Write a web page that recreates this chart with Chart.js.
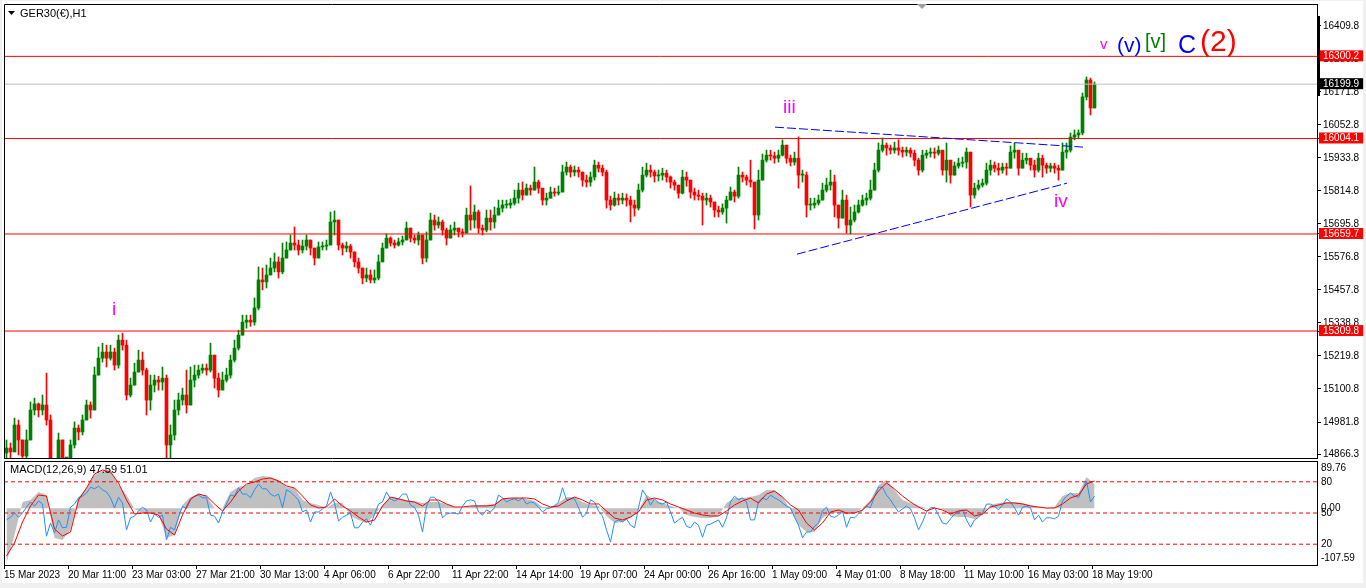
<!DOCTYPE html>
<html>
<head>
<meta charset="utf-8">
<title>GER30 H1</title>
<script src="https://cdn.jsdelivr.net/npm/chart.js@4.4.0/dist/chart.umd.min.js"></script>
<style>
    html, body { margin: 0; padding: 0; background: #f0f0f0; overflow: hidden; }
    #frame { position: absolute; left: 2px; top: 1px; width: 1361px; height: 582px; background: #fff; }
    #pricePane { position: absolute; left: 0; top: 0; width: 1366px; height: 470px; }
    #macdPane { position: absolute; left: 0; top: 459px; width: 1366px; height: 129px; }
</style>
</head>
<body>
<div id="frame"></div>
<div id="pricePane"><canvas id="priceChart"></canvas></div>
<div id="macdPane"><canvas id="macdChart"></canvas></div>
<script>
// hourly candles, sampled every 4 px of the original chart
const firstOpen = 14870;
const closes = [
    14888,14874,14971,14917,14859,14917,15025,15047,15025,15043,
    14989,14845,14809,14917,14827,14827,14899,14960,14946,14989,
    15043,15025,15151,15212,15234,15212,15234,15187,15277,15259,
    15079,15115,15162,15205,15169,15061,15115,15133,15126,15140,
    14899,14935,15025,15061,15079,15043,15133,15151,15169,15176,
    15169,15223,15140,15097,15133,15151,15205,15248,15295,15342,
    15349,15342,15393,15494,15487,15512,15537,15559,15523,15573,
    15602,15627,15620,15602,15616,15638,15609,15573,15613,15616,
    15620,15703,15710,15620,15609,15616,15595,15559,15537,15501,
    15512,15494,15501,15559,15609,15645,15627,15620,15631,15638,
    15681,15645,15638,15656,15573,15638,15710,15692,15703,15674,
    15645,15674,15681,15667,15663,15728,15710,15739,15681,15674,
    15717,15703,15728,15753,15764,15764,15771,15789,15818,15800,
    15825,15818,15847,15825,15782,15789,15811,15807,15811,15883,
    15901,15883,15890,15883,15854,15847,15865,15908,15897,15883,
    15782,15764,15789,15782,15789,15782,15764,15753,15818,15872,
    15890,15883,15869,15872,15879,15865,15847,15836,15807,15865,
    15854,15811,15800,15796,15782,15789,15775,15746,15739,15753,
    15782,15811,15796,15872,15865,15854,15847,15728,15854,15926,
    15944,15941,15933,15944,15980,15933,15919,15933,15872,15872,
    15764,15764,15771,15782,15818,15836,15847,15764,15717,15782,
    15692,15710,15739,15764,15782,15789,15818,15890,15962,15980,
    15970,15962,15970,15962,15955,15962,15951,15926,15890,15944,
    15951,15955,15951,15962,15890,15926,15872,15905,15915,15919,
    15955,15800,15825,15836,15843,15890,15908,15897,15890,15901,
    15897,15955,15962,15897,15926,15933,15908,15890,15933,15908,
    15897,15905,15897,15890,15955,15962,16009,16017,16024,16154,
    16215,16114,16200
];
const highs = [
    14917,14906,14996,14989,14899,14953,15054,15068,15050,15079,
    15158,15007,14845,14942,14917,14852,14917,14982,14971,15007,
    15061,15054,15180,15252,15266,15259,15259,15248,15295,15302,
    15277,15140,15194,15241,15234,15176,15151,15151,15147,15180,
    15151,14971,15061,15086,15104,15169,15180,15187,15187,15191,
    15191,15266,15187,15158,15162,15176,15223,15277,15313,15367,
    15367,15367,15429,15541,15537,15548,15573,15591,15577,15627,
    15631,15656,15685,15638,15638,15656,15631,15609,15631,15631,
    15638,15739,15743,15692,15627,15631,15623,15591,15573,15537,
    15537,15530,15530,15584,15627,15660,15649,15638,15645,15652,
    15703,15667,15656,15667,15638,15667,15735,15728,15721,15710,
    15681,15692,15703,15681,15678,15753,15833,15764,15746,15692,
    15746,15746,15757,15782,15782,15782,15786,15818,15843,15847,
    15840,15836,15901,15854,15818,15807,15829,15825,15833,15908,
    15919,15908,15905,15901,15883,15872,15883,15926,15919,15908,
    15890,15796,15811,15804,15807,15804,15796,15782,15840,15901,
    15915,15908,15890,15890,15897,15890,15869,15854,15836,15890,
    15883,15836,15825,15818,15807,15807,15800,15771,15760,15768,
    15796,15829,15818,15901,15883,15872,15926,15818,15890,15948,
    15962,15962,15955,15962,15999,15962,15944,15955,16010,15890,
    15883,15789,15789,15800,15843,15861,15890,15872,15764,15818,
    15800,15757,15764,15782,15800,15807,15854,15915,15988,16006,
    15988,15980,15991,15999,15973,15973,15970,15962,15933,15962,
    15962,15970,15970,15977,15944,15988,15908,15919,15933,15937,
    15970,15944,15843,15854,15858,15915,15926,15919,15915,15915,
    15915,15977,15988,15962,15951,15951,15933,15926,15951,15944,
    15915,15915,15915,15908,15988,15988,16024,16035,16035,16168,
    16226,16222,16208
];
const lows = [
    14852,14845,14881,14863,14838,14852,14917,15007,15000,15007,
    14971,14809,14773,14809,14791,14791,14827,14888,14917,14935,
    14989,14996,15025,15162,15198,15180,15205,15169,15176,15241,
    15061,15072,15115,15162,15151,15007,15025,15090,15097,15097,
    14852,14852,14917,15007,15043,15014,15079,15108,15140,15158,
    15151,15162,15104,15072,15097,15126,15140,15198,15241,15306,
    15320,15327,15331,15386,15458,15465,15512,15523,15501,15516,
    15577,15609,15602,15584,15591,15602,15584,15548,15595,15602,
    15602,15620,15656,15602,15584,15595,15573,15541,15519,15480,
    15487,15483,15483,15494,15573,15620,15616,15609,15616,15620,
    15638,15631,15627,15620,15552,15559,15638,15674,15681,15656,
    15620,15645,15656,15649,15649,15667,15674,15681,15663,15656,
    15667,15674,15681,15728,15739,15753,15753,15764,15771,15782,
    15804,15800,15818,15807,15764,15764,15793,15796,15800,15818,
    15872,15865,15869,15865,15832,15829,15832,15854,15883,15869,
    15753,15746,15760,15764,15768,15760,15703,15724,15746,15811,
    15865,15865,15847,15851,15854,15847,15825,15818,15789,15804,
    15832,15789,15782,15782,15692,15764,15757,15721,15721,15731,
    15699,15782,15775,15789,15847,15836,15829,15678,15710,15883,
    15919,15926,15915,15919,15941,15915,15905,15908,15825,15847,
    15721,15746,15753,15764,15782,15811,15818,15721,15681,15746,
    15663,15660,15703,15735,15760,15764,15782,15836,15883,15955,
    15944,15948,15951,15944,15937,15941,15937,15905,15872,15883,
    15933,15937,15933,15944,15872,15847,15843,15883,15897,15901,
    15897,15757,15789,15818,15829,15836,15872,15883,15872,15879,
    15872,15908,15933,15872,15897,15912,15890,15865,15883,15865,
    15879,15883,15879,15854,15890,15933,15955,15999,16006,16017,
    16143,16089,16125
];

// horizontal levels and the current price
const levels = [16300.2, 16004.1, 15659.7, 15309.8];
const lastPrice = 16199.9;
const priceTicks = [16409.8, 16290.8, 16171.8, 16052.8, 15933.8, 15814.8, 15695.8,
                    15576.8, 15457.8, 15338.8, 15219.8, 15100.8, 14981.8, 14866.3];
const priceMin = 14852;
const priceMax = 16489;

// one date label every 16 candles
const dateLabels = ['15 Mar 2023', '20 Mar 11:00', '23 Mar 03:00', '27 Mar 21:00', '30 Mar 13:00',
    '4 Apr 06:00', '6 Apr 22:00', '11 Apr 22:00', '14 Apr 14:00', '19 Apr 07:00', '24 Apr 00:00',
    '26 Apr 16:00', '1 May 09:00', '4 May 01:00', '8 May 18:00', '11 May 10:00', '16 May 03:00',
    '18 May 19:00'];

// MACD pane: main and signal every 2 candles, fast line every candle
const macdMain = [
    -103.8,-50.7,12.0,15.8,30.9,25.2,-56.4,-60.2,-41.2,21.4,
    38.5,63.2,70.8,72.7,44.2,25.2,-1.3,-8.9,-10.8,-10.8,
    -56.4,-50.7,6.3,21.4,27.1,23.3,0.6,0.6,30.9,40.4,
    44.2,57.5,61.3,59.4,53.7,40.4,38.5,15.8,10.1,6.3,
    0.6,10.1,10.1,-14.6,-22.2,-27.9,-12.7,6.3,21.4,19.5,
    15.8,13.9,10.1,12.0,12.0,8.2,2.5,0.6,4.4,6.3,
    6.3,8.2,19.5,19.5,19.5,17.7,13.9,2.5,2.5,10.1,
    21.4,21.4,12.0,6.3,4.4,-14.6,-27.9,-26.0,-18.4,-3.2,
    25.2,15.8,10.1,4.4,0.6,-12.7,-16.5,-18.4,-18.4,-14.6,
    10.1,19.5,19.5,21.4,25.2,34.7,34.7,21.4,-3.2,-31.7,
    -45.0,-45.0,-18.4,-8.9,-8.9,-10.8,-8.9,0.6,15.8,44.2,
    53.7,34.7,15.8,10.1,4.4,0.6,0.6,-1.3,-14.6,-16.5,
    -16.5,-20.3,-12.7,6.3,10.1,12.0,12.0,10.1,6.3,2.5,
    0.6,2.5,23.3,29.0,29.0,59.4,46.1
];
const macdSignal = [
    -90.5,-65.9,-26.0,4.4,25.2,23.3,-39.3,-52.6,-45.0,15.8,
    38.5,65.1,72.7,68.9,48.0,15.8,-10.8,-8.9,-8.9,-12.7,
    -39.3,-50.7,-12.7,17.7,27.1,23.3,8.2,-5.1,12.0,32.8,
    46.1,49.9,55.6,57.5,51.8,42.3,38.5,23.3,6.3,0.6,
    2.5,17.7,4.4,-5.1,-16.5,-26.0,-22.2,4.4,21.4,17.7,
    13.9,12.0,4.4,15.8,15.8,8.2,2.5,2.5,4.4,4.4,
    4.4,6.3,17.7,19.5,19.5,19.5,17.7,8.2,2.5,4.4,
    13.9,21.4,15.8,8.2,8.2,-5.1,-18.4,-22.2,-16.5,-7.0,
    15.8,19.5,15.8,8.2,2.5,-3.2,-8.9,-12.7,-14.6,-14.6,
    -5.1,6.3,13.9,19.5,10.1,27.1,32.8,21.4,6.3,-3.2,
    -27.9,-41.2,-27.9,-7.0,-3.2,-8.9,-8.9,-3.2,12.0,32.8,
    48.0,36.6,23.3,12.0,2.5,-5.1,0.6,-3.2,-10.8,-5.1,
    -3.2,-14.6,-10.8,2.5,6.3,10.1,10.1,8.2,4.4,2.5,
    0.6,0.6,8.2,19.5,25.2,46.1,51.8
];
const macdFast = [
    -22,-17,-9,-17,-9,2,12,4,14,8,
    -53,-28,-47,-22,-37,-36,2,8,20,23,
    29,40,37,42,35,31,20,1,21,10,
    -41,-18,-15,-5,2,-3,-26,-11,-17,-13,
    -60,-36,-41,-17,4,-1,16,23,25,20,
    20,-13,-15,-28,-7,8,25,23,39,27,
    27,20,35,46,37,37,27,23,27,1,
    35,31,23,16,-7,-3,-26,-7,-7,-1,
    4,31,10,-24,-17,-13,-9,-37,-37,-26,
    -20,-32,-11,8,12,31,18,14,18,27,
    27,6,2,-13,-45,4,21,21,12,-18,
    -11,-9,-9,-11,4,14,16,14,-7,-13,
    -3,-7,1,25,20,12,16,18,14,20,
    8,12,10,2,-7,-1,1,4,12,39,
    16,18,18,1,-17,-9,16,12,-5,-15,
    -41,-64,-26,-22,-26,-20,-32,-37,1,35,
    23,6,18,10,8,12,-7,-28,-22,-17,
    -34,-37,-26,-32,-55,-32,-30,-26,-22,-36,
    -18,12,23,16,20,12,-22,-22,12,20,
    16,25,20,16,10,4,1,-17,-32,-56,
    -45,-45,-34,-28,-5,2,-15,-17,-13,-5,
    -36,-17,-18,-11,-3,4,1,23,40,40,
    25,16,4,-7,-1,4,-1,-18,-41,-26,
    -7,1,2,-13,-28,-30,-20,-11,-7,-3,
    -22,-36,-22,-17,-9,8,8,4,-3,6,
    18,12,1,-13,2,4,1,-22,-13,-26,
    -18,-18,-20,-15,14,23,29,23,21,35,
    52,12,23
];
const macdMin = -107.59;
const macdMax = 89.76;
const macdLevels = [80, 50, 20];

const xMax = 328.25;          // empty space to the right of the last candle
const labelsPerTick = 16;
const uiFont = '"Liberation Sans", Arial, sans-serif';
const textFont = '"Liberation Sans", Arial, sans-serif';

// wave counts and trend lines drawn on the price pane
const waveNotes = [
    { text: 'i', x: 27, y: 15368, color: '#ff00ff', size: 19 },
    { text: 'iii', x: 194.75, y: 16096, color: '#ff00ff', size: 19 },
    { text: 'iv', x: 262.5, y: 15757, color: '#ff00ff', size: 19 },
    { text: 'v', x: 274, y: 16327, color: '#ff00ff', size: 15 },
    { text: '(v)', x: 278.25, y: 16316, color: '#0000ff', size: 21 },
    { text: '[v]', x: 285.25, y: 16330, color: '#008000', size: 20 },
    { text: 'C', x: 293.5, y: 16312, color: '#0000ff', size: 25 },
    { text: '(2)', x: 299, y: 16320, color: '#ff0000', size: 30 }
];
const trendLines = [
    [{ x: 192.75, y: 16045 }, { x: 269.75, y: 15973 }],
    [{ x: 198.25, y: 15587 }, { x: 265.75, y: 15843 }]
];

const slot = i => i + 0.625;
const opens = [firstOpen].concat(closes.slice(0, -1));
const candleColors = closes.map((c, i) => c >= opens[i] ? '#008000' : '#ff0000');

function flatLine(value, color, extra) {
    return Object.assign({
        type: 'line',
        data: [{ x: 0, y: value }, { x: xMax, y: value }],
        borderColor: color,
        borderWidth: 1,
        pointRadius: 0,
        order: 1
    }, extra || {});
}

function markColor(v) {
    if (levels.includes(v)) return '#ff0000';
    if (v === lastPrice) return '#000000';
    return null;
}

const priceDecor = {
    id: 'priceDecor',
    afterDraw(chart) {
        const { ctx, chartArea: a, scales: { x, y } } = chart;
        ctx.save();
        ctx.strokeStyle = '#000';
        ctx.lineWidth = 1;
        ctx.beginPath();
        ctx.moveTo(a.left + 0.5, a.bottom + 0.5);
        ctx.lineTo(a.left + 0.5, a.top + 0.5);
        ctx.lineTo(a.right, a.top + 0.5);
        ctx.moveTo(a.left, a.bottom + 0.5);
        ctx.lineTo(a.right, a.bottom + 0.5);
        ctx.stroke();

        // chart shift marker and scale marker
        ctx.fillStyle = '#a0a0a0';
        ctx.beginPath();
        ctx.moveTo(917, 4); ctx.lineTo(927, 4); ctx.lineTo(922, 9);
        ctx.fill();
        ctx.fillStyle = '#000';
        ctx.fillRect(a.right, 16, 3, 80);

        // symbol title
        ctx.beginPath();
        ctx.moveTo(8, 11); ctx.lineTo(15, 11); ctx.lineTo(11.5, 15);
        ctx.fill();
        ctx.font = '11px ' + textFont;
        ctx.textBaseline = 'alphabetic';
        ctx.textAlign = 'left';
        ctx.fillText('GER30(€),H1', 20, 17);

        waveNotes.forEach(n => {
            ctx.font = n.size + 'px ' + textFont;
            ctx.fillStyle = n.color;
            ctx.fillText(n.text, x.getPixelForValue(n.x), y.getPixelForValue(n.y));
        });
        ctx.restore();
    }
};

const macdDecor = {
    id: 'macdDecor',
    afterDraw(chart) {
        const { ctx, chartArea: a } = chart;
        ctx.save();
        ctx.strokeStyle = '#000';
        ctx.lineWidth = 1;
        ctx.beginPath();
        ctx.moveTo(a.left + 0.5, a.bottom);
        ctx.lineTo(a.left + 0.5, a.top + 0.5);
        ctx.lineTo(a.right, a.top + 0.5);
        ctx.stroke();
        ctx.fillStyle = '#000';
        ctx.font = '11px ' + textFont;
        ctx.textAlign = 'left';
        ctx.textBaseline = 'alphabetic';
        ctx.fillText('MACD(12,26,9) 47.59 51.01', 10, a.top + 12);
        ctx.restore();
    }
};

// price pane
new Chart(document.getElementById('priceChart'), {
    type: 'bar',
    data: {
        datasets: [
            ...trendLines.map(pts => ({
                type: 'line', data: pts, borderColor: '#0000ff', borderWidth: 1,
                borderDash: [9, 3], pointRadius: 0, order: 0
            })),
            flatLine(lastPrice, '#c0c0c0'),
            ...levels.map(l => flatLine(l, '#ff0000')),
            {
                data: closes.map((c, i) => ({ x: slot(i), y: [opens[i], c] })),
                backgroundColor: candleColors,
                barThickness: 3,
                minBarLength: 1,
                grouped: false,
                order: 2
            },
            {
                data: closes.map((c, i) => ({
                    x: slot(i),
                    y: [Math.min(lows[i], opens[i], c), Math.max(highs[i], opens[i], c)]
                })),
                backgroundColor: candleColors,
                barThickness: 1,
                grouped: false,
                order: 3
            }
        ]
    },
    options: {
        responsive: true,
        maintainAspectRatio: false,
        animation: false,
        events: [],
        layout: { padding: { left: 4, top: 4, right: 0, bottom: 12 } },
        plugins: { legend: { display: false }, tooltip: { enabled: false } },
        scales: {
            x: { type: 'linear', min: 0, max: xMax, offset: false, display: false },
            y: {
                position: 'right',
                min: priceMin,
                max: priceMax,
                afterBuildTicks: s => {
                    s.ticks = priceTicks.concat(levels, [lastPrice]).map(v => ({ value: v }));
                },
                afterFit: s => {
                    s.width = 49;
                    s.paddingTop = 0;
                    s.paddingBottom = 0;
                },
                grid: { drawOnChartArea: false, drawTicks: true, tickLength: 4, color: '#000' },
                border: { display: true, color: '#000' },
                ticks: {
                    autoSkip: false,
                    padding: 2,
                    font: { family: uiFont, size: 10, lineHeight: 1 },
                    color: c => (c.tick && markColor(c.tick.value)) ? '#fff' : '#000',
                    showLabelBackdrop: c => !!(c.tick && markColor(c.tick.value)),
                    backdropColor: c => (c.tick && markColor(c.tick.value)) || 'rgba(0,0,0,0)',
                    backdropPadding: { top: 1, bottom: 0, left: 4, right: 4 },
                    callback: v => v.toFixed(1)
                }
            }
        }
    },
    plugins: [priceDecor]
});

// MACD pane
const macdTickValues = [76.5, 0, -94.3];
const macdTickText = ['89.76', '0.00', '-107.59'];
const levelOnMacd = l => macdMin + l / 100 * (macdMax - macdMin);

new Chart(document.getElementById('macdChart'), {
    type: 'line',
    data: {
        datasets: [
            {
                data: macdSignal.map((v, j) => ({ x: 2 * j + 0.625, y: v })),
                borderColor: '#ff0000', borderWidth: 1, pointRadius: 0, order: 0
            },
            {
                data: macdFast.map((v, i) => ({ x: slot(i), y: v })),
                borderColor: '#1e90ff', borderWidth: 1, pointRadius: 0, order: 1
            },
            ...macdLevels.map(l => ({
                data: [{ x: 0, y: l }, { x: xMax, y: l }],
                yAxisID: 'lv', borderColor: '#ff0000', borderWidth: 1,
                borderDash: [4, 3], pointRadius: 0, order: 2
            })),
            {
                data: macdMain.map((v, j) => ({ x: 2 * j + 0.625, y: v })),
                borderWidth: 0, borderColor: 'rgba(0,0,0,0)', backgroundColor: '#c0c0c0',
                fill: 'origin', pointRadius: 0, order: 3
            }
        ]
    },
    options: {
        responsive: true,
        maintainAspectRatio: false,
        animation: false,
        events: [],
        layout: { padding: { left: 4, top: 2, right: 0, bottom: 0 } },
        plugins: { legend: { display: false }, tooltip: { enabled: false } },
        scales: {
            x: {
                type: 'linear', min: 0, max: xMax, offset: false,
                afterBuildTicks: s => {
                    s.ticks = dateLabels.map((_, k) => ({ value: k * labelsPerTick }));
                },
                afterFit: s => {
                    s.height = 23;
                    s.paddingLeft = 0;
                    s.paddingRight = 0;
                },
                grid: { drawOnChartArea: false, drawTicks: true, tickLength: 4, color: '#000' },
                border: { display: true, color: '#000' },
                ticks: {
                    autoSkip: false, maxRotation: 0, minRotation: 0, align: 'start', padding: 0,
                    color: '#000',
                    font: { family: uiFont, size: 10 },
                    callback: (v, k) => dateLabels[k]
                }
            },
            y: {
                position: 'right', min: macdMin, max: macdMax, weight: 1,
                afterBuildTicks: s => {
                    s.ticks = macdTickValues.concat(macdLevels.map(levelOnMacd)).map(v => ({ value: v }));
                },
                afterFit: s => {
                    s.width = 49;
                    s.paddingTop = 0;
                    s.paddingBottom = 0;
                },
                grid: { drawOnChartArea: false, drawTicks: false },
                border: { display: true, color: '#000' },
                ticks: {
                    autoSkip: false, padding: 4, color: '#000',
                    font: { family: uiFont, size: 10 },
                    callback: (v, k) => k < macdTickText.length ? macdTickText[k] : String(macdLevels[k - macdTickText.length])
                }
            },
            lv: { position: 'right', min: 0, max: 100, display: false }
        }
    },
    plugins: [macdDecor]
});
</script>
</body>
</html>
